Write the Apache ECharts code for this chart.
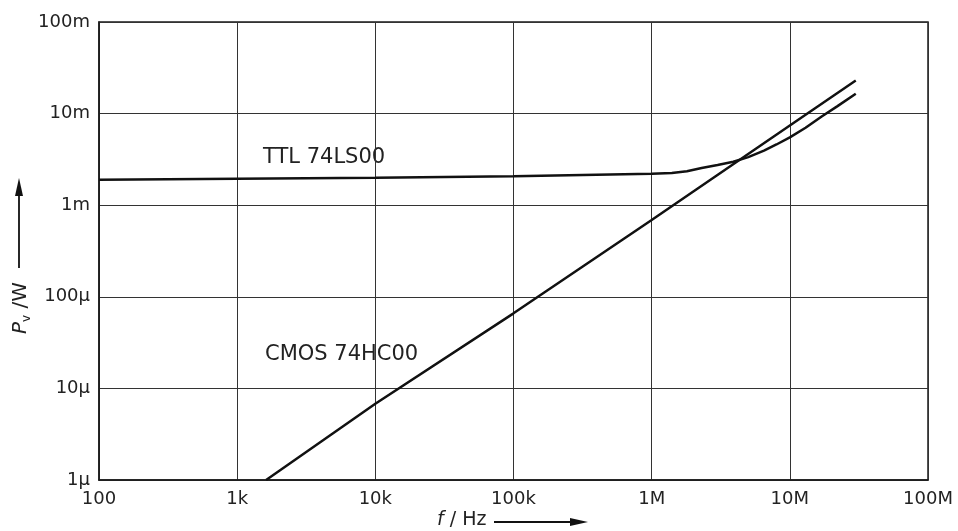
<!DOCTYPE html>
<html>
<head>
<meta charset="utf-8">
<script src="https://cdn.jsdelivr.net/npm/echarts@6/dist/echarts.min.js"></script>
<style>
html,body{margin:0;padding:0;background:#fff;}
#chart{width:958px;height:531px;}
</style>
</head>
<body>
<div id="chart"></div>
<script>
// Tick labels
const xTickLabels = ['100', '1k', '10k', '100k', '1M', '10M', '100M'];
const yTickLabels = ['1µ', '10µ', '100µ', '1m', '10m', '100m'];

// TTL 74LS00 (frequency Hz, power W)
const ttlF = [100, 1000, 10000, 100000, 1000000, 1400000, 1800000, 2300000, 3000000, 3900000, 5000000, 6500000, 8000000, 10000000, 13000000, 17000000, 22000000, 30000000];
const ttlP = [1.9e-3, 1.95e-3, 2.0e-3, 2.07e-3, 2.2e-3, 2.25e-3, 2.35e-3, 2.55e-3, 2.75e-3, 2.98e-3, 3.35e-3, 3.95e-3, 4.6e-3, 5.5e-3, 7.0e-3, 9.3e-3, 12.0e-3, 16.5e-3];

// CMOS 74HC00
const cmosF = [1620, 10000, 100000, 1000000, 10000000, 30000000];
const cmosP = [1.0e-6, 6.8e-6, 6.6e-5, 6.9e-4, 7.4e-3, 2.3e-2];

const ttlData = ttlF.map((f, i) => [f, ttlP[i]]);
const cmosData = cmosF.map((f, i) => [f, cmosP[i]]);

const FONT = 'DejaVu Sans';
const TXT = '#222';

const chart = echarts.init(document.getElementById('chart'));
chart.setOption({
  animation: false,
  backgroundColor: '#fff',
  grid: {left: 99, right: 30, top: 22, bottom: 51, show: true, borderColor: '#1a1a1a', borderWidth: 1.5, backgroundColor: 'transparent'},
  xAxis: {
    type: 'log', logBase: 10, min: 100, max: 1e8, splitNumber: 6,
    axisLine: {show: true, lineStyle: {color: '#1a1a1a', width: 1.5}},
    axisTick: {show: false},
    minorTick: {show: false},
    splitLine: {show: true, lineStyle: {color: '#333', width: 1}},
    axisLabel: {
      margin: 10, fontFamily: FONT, fontSize: 18, color: TXT,
      formatter: v => xTickLabels[Math.round(Math.log10(v)) - 2] || ''
    }
  },
  yAxis: {
    type: 'log', logBase: 10, min: 1e-6, max: 0.1, splitNumber: 5,
    axisLine: {show: true, lineStyle: {color: '#1a1a1a', width: 1.5}},
    axisTick: {show: false},
    minorTick: {show: false},
    splitLine: {show: true, lineStyle: {color: '#333', width: 1}},
    axisLabel: {
      margin: 9, fontFamily: FONT, fontSize: 18, color: TXT,
      formatter: v => yTickLabels[Math.round(Math.log10(v)) + 6] || ''
    }
  },
  series: [
    {type: 'line', name: 'TTL 74LS00', data: ttlData, showSymbol: false,
     lineStyle: {color: '#111', width: 2.5}},
    {type: 'line', name: 'CMOS 74HC00', data: cmosData, showSymbol: false,
     lineStyle: {color: '#111', width: 2.5}}
  ],
  graphic: [
    {type: 'text', left: 263, top: 147, style: {text: 'TTL 74LS00', font: '21px "DejaVu Sans"', fill: TXT}},
    {type: 'text', left: 265, top: 344, style: {text: 'CMOS 74HC00', font: '21px "DejaVu Sans"', fill: TXT}},
    // y axis name with arrow
    {type: 'text', x: 9, y: 334, rotation: Math.PI / 2,
     style: {
       text: '{p|P}{s|v}{n| /W}',
       rich: {
         p: {fontFamily: FONT, fontSize: 20, fontStyle: 'italic', fill: TXT},
         s: {fontFamily: FONT, fontSize: 12, fill: TXT, padding: [12, 0, 0, 0]},
         n: {fontFamily: FONT, fontSize: 20, fill: TXT}
       },
       verticalAlign: 'top', align: 'left'
     }},
    {type: 'line', shape: {x1: 19, y1: 268, x2: 19, y2: 192}, style: {stroke: '#111', lineWidth: 1.8}},
    {type: 'polygon', shape: {points: [[19, 178], [15, 196], [23, 196]]}, style: {fill: '#111'}},
    // x axis name with arrow
    {type: 'text', left: 437, top: 511, style: {text: '{f|f}{n| / Hz}', rich: {
       f: {fontFamily: FONT, fontSize: 19, fontStyle: 'italic', fill: TXT},
       n: {fontFamily: FONT, fontSize: 19, fill: TXT}}}},
    {type: 'line', shape: {x1: 494, y1: 522, x2: 572, y2: 522}, style: {stroke: '#111', lineWidth: 1.8}},
    {type: 'polygon', shape: {points: [[588, 522], [570, 518], [570, 526]]}, style: {fill: '#111'}}
  ]
});
</script>
</body>
</html>
